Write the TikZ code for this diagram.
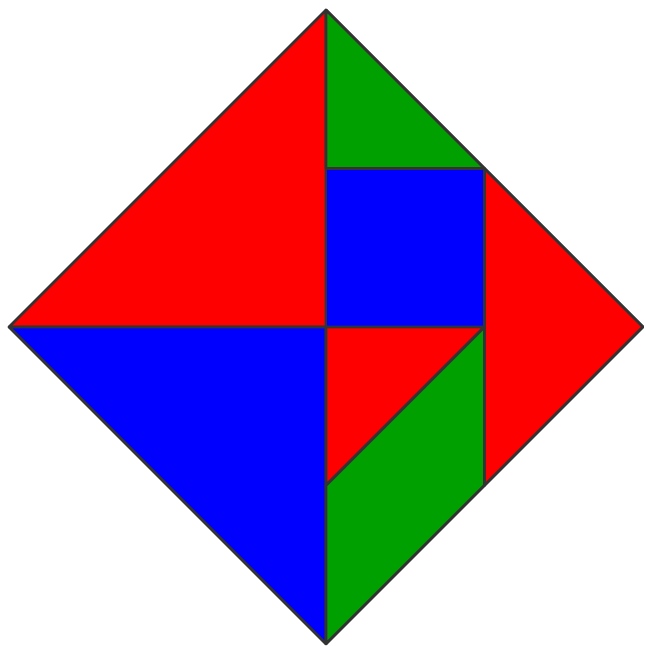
\documentclass[tikz,border=0pt]{standalone}
\usepackage{xcolor}
\usepackage{tikz}
\definecolor{tred}{HTML}{FF0000}
\definecolor{tgreen}{HTML}{00A000}
\definecolor{tblue}{HTML}{0000FF}
\tikzset{
  tpiece/.style={draw=black!80, line width=0.5pt, line join=round},
}
\begin{document}
\begin{tikzpicture}[x=1cm,y=1cm]

  \useasboundingbox (-2.057,-2.013) rectangle (2.013,2.063);

  % corners of the square
  \coordinate (top) at (0,2);
  \coordinate (lft) at (-2,0);
  \coordinate (rgt) at (2,0);
  \coordinate (bot) at (0,-2);
  \coordinate (ctr) at (0,0);

  % inner points
  \coordinate (ua) at (0,1);
  \coordinate (ub) at (1,1);
  \coordinate (mb) at (1,0);
  \coordinate (la) at (0,-1);
  \coordinate (lb) at (1,-1);

  % large triangles
  \filldraw[tpiece, fill=tred]  (top) -- (lft) -- (ctr) -- cycle;
  \filldraw[tpiece, fill=tblue] (lft) -- (bot) -- (ctr) -- cycle;

  % right half
  \filldraw[tpiece, fill=tgreen] (top) -- (ua) -- (ub) -- cycle;
  \filldraw[tpiece, fill=tblue]  (ua) -- (ub) -- (mb) -- (ctr) -- cycle;
  \filldraw[tpiece, fill=tred]   (ub) -- (rgt) -- (lb) -- cycle;
  \filldraw[tpiece, fill=tred]   (ctr) -- (mb) -- (la) -- cycle;
  \filldraw[tpiece, fill=tgreen] (la) -- (mb) -- (lb) -- (bot) -- cycle;

\end{tikzpicture}
\end{document}
